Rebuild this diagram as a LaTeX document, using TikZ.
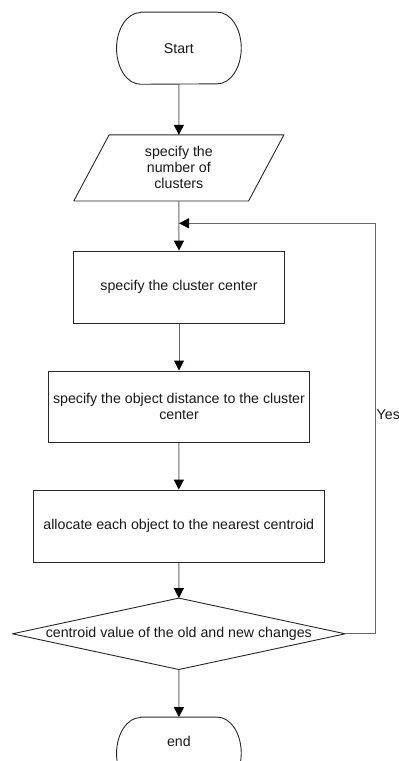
\documentclass[tikz,border=0pt]{standalone}
\usepackage{fontspec}
\setmainfont{Liberation Sans}
\usetikzlibrary{arrows.meta}
\definecolor{linegray}{RGB}{105,105,105}
\definecolor{edgeblack}{RGB}{40,40,40}
\begin{document}
\begin{tikzpicture}[x={(1pt,0)},y={(0,-1pt)},
  every node/.style={font=\fontsize{14.2}{16}\selectfont, inner sep=0pt, align=center, text=black!90},
  box/.style={draw=edgeblack, line width=0.9pt},
  ghost/.style={draw=none},
  conn/.style={draw=linegray, line width=1pt, -{Triangle[length=10pt,width=10pt,fill=black,color=black]}},
  plain/.style={draw=linegray, line width=1pt},
  shapeline/.style={draw=edgeblack, line width=0.9pt, line join=round}]
\useasboundingbox (0,0) rectangle (399,761);
\fill[white] (0,0) rectangle (399,761);

% Start terminal
\node[ghost, minimum width=124.3pt, minimum height=71.7pt] (start) at (178.9,48.2) {Start};
\draw[shapeline] ([xshift=24pt]start.north west) -- ([xshift=-24pt]start.north east)
  arc[start angle=90, end angle=-90, x radius=24pt, y radius=35.85pt]
  -- ([xshift=24pt]start.south west)
  arc[start angle=270, end angle=90, x radius=24pt, y radius=35.85pt] -- cycle;

% Parallelogram
\node[ghost, minimum width=209.7pt, minimum height=65.7pt] (num) at (178.85,167.9) {specify the\\number of\\clusters};
\draw[shapeline] ([xshift=35.3pt]num.north west) -- (num.north east)
  -- ([xshift=-35.3pt]num.south east) -- (num.south west) -- cycle;

% Rectangles
\node[box, minimum width=211.4pt, minimum height=72.3pt] (center) at (179,287.2) {specify the cluster center};
\node[box, minimum width=261.4pt, minimum height=71.7pt] (dist) at (179,406.8) {specify the object distance to the cluster\\center};
\node[box, minimum width=291pt, minimum height=72.3pt] (alloc) at (178.8,526.2) {allocate each object to the nearest centroid};

% Diamond
\node[ghost, minimum width=332.3pt, minimum height=71pt] (dec) at (178.85,633.8) {centroid value of the old and new changes};
\draw[shapeline] (dec.north) -- (dec.east) -- (dec.south) -- (dec.west) -- cycle;

% End terminal
\node[ghost, minimum width=124.3pt, minimum height=72pt] (stop) at (178.9,753.3) {};
\node (endtxt) at (178.9,741) {end};
\draw[shapeline] ([xshift=24pt]stop.north west) -- ([xshift=-24pt]stop.north east)
  arc[start angle=90, end angle=-90, x radius=24pt, y radius=36pt]
  -- ([xshift=24pt]stop.south west)
  arc[start angle=270, end angle=90, x radius=24pt, y radius=36pt] -- cycle;

% Connectors
\coordinate (merge) at (179,223.3);
\coordinate (rtop) at (375,223.3);
\coordinate (rbot) at (375,633.8);
\draw[conn] (start.south) -- (num.north);
\draw[conn] (num.south) -- (center.north);
\draw[conn] (center.south) -- (dist.north);
\draw[conn] (dist.south) -- (alloc.north);
\draw[conn] (alloc.south) -- (dec.north);
\draw[conn] (dec.south) -- (stop.north);
\draw[conn] (dec.east) -- (rbot) -- (rtop) -- (merge);

\node[anchor=west] (yes) at (376.5,414.5) {Yes};
\end{tikzpicture}
\end{document}
